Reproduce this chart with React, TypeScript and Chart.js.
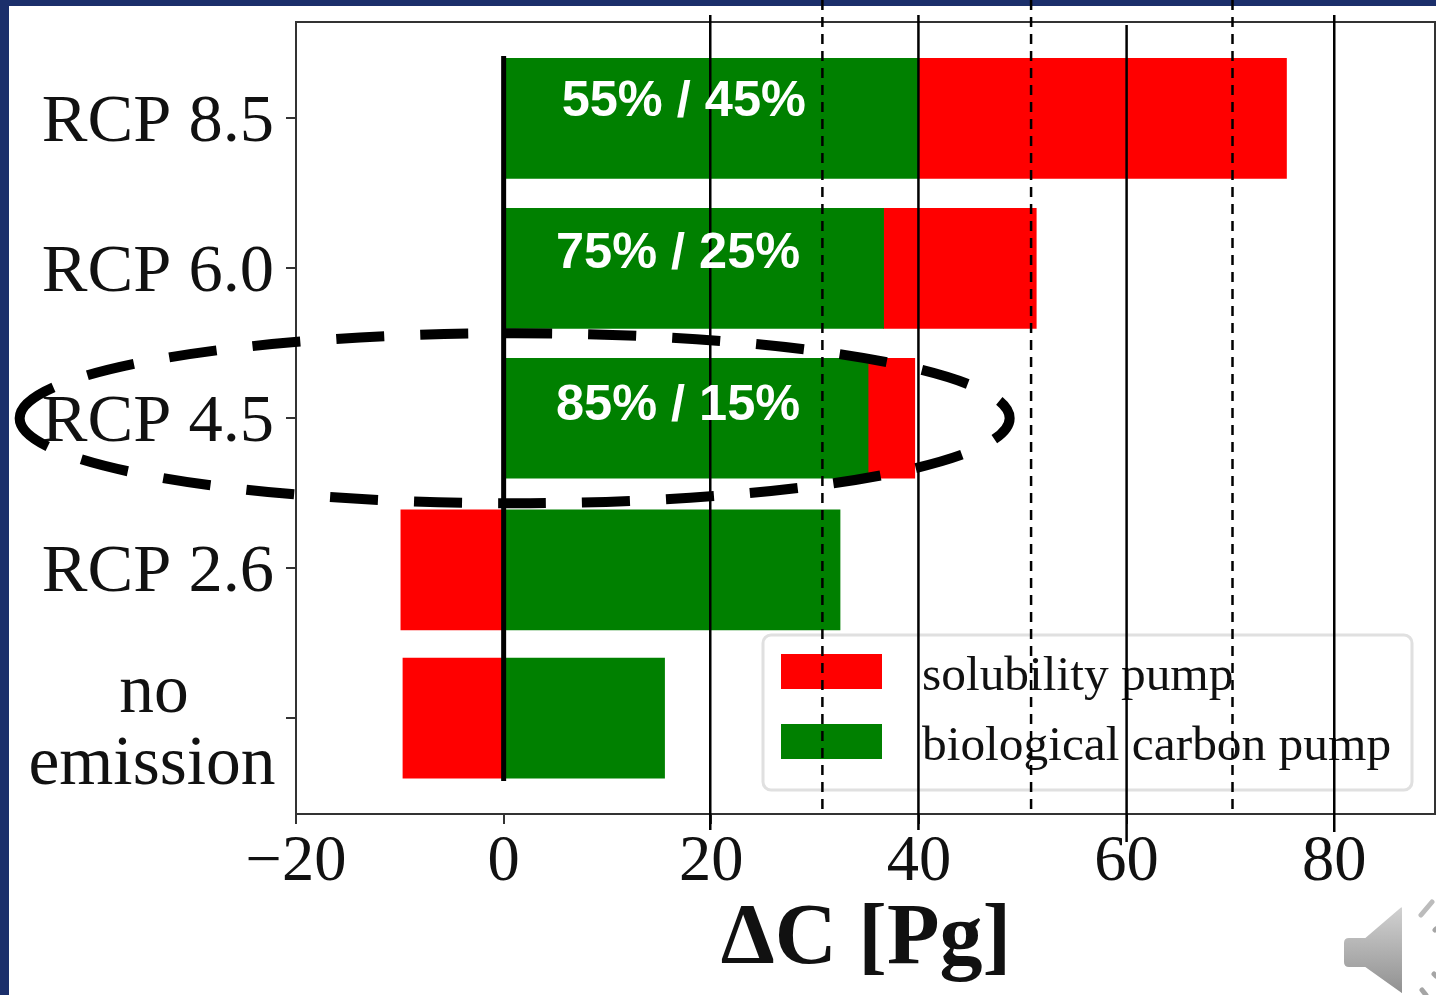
import React, { useEffect, useRef } from "react";
import { Chart, registerables } from "chart.js";

Chart.register(...registerables);

const categories = ["RCP 8.5", "RCP 6.0", "RCP 4.5", "RCP 2.6", "no emission"];
const barRows = [0, 1, 2, 3.012, 4];
const biological = [39.9, 36.6, 35.1, 32.4, 15.5];
const solubility = [35.5, 14.7, 4.5, -9.9, -9.7];
const shareLabels = ["55% / 45%", "75% / 25%", "85% / 15%"];
const shareLabelX = [17.35, 16.8, 16.8];
const shareLabelRow = [-0.11, 0.907, 1.92];
const solidRefs = [19.9, 39.95, 60, 80];
const solidRefTops = [15, 15, 25, 15];
const solidRefBottoms = [830, 830, 842, 832];
const dashedRefs = [30.7, 50.8, 70.2];

const SERIF = '"Liberation Serif", "Times New Roman", serif';
const INK = "#111111";

const overlays = {
  id: "overlays",
  afterDraw(chart: any) {
    const { ctx, chartArea, scales } = chart;
    const x = scales.x;
    const y = scales.y;
    ctx.save();

    // axes frame
    ctx.strokeStyle = "#333333";
    ctx.lineWidth = 2;
    ctx.strokeRect(chartArea.left, chartArea.top, chartArea.right - chartArea.left - 1, chartArea.bottom - chartArea.top);

    // category labels come from the scale's own ticks
    ctx.fillStyle = INK;
    ctx.textBaseline = "alphabetic";
    y.ticks.forEach((t: any) => {
      const py = y.getPixelForValue(t.value);
      const lab = String(t.label);
      if (lab.includes(" ") && !lab.startsWith("RCP")) {
        const [a, b] = lab.split(" ");
        ctx.font = `69.5px ${SERIF}`;
        ctx.textAlign = "center";
        ctx.fillText(a, 154, py - 6);
        ctx.fillText(b, 152, py + 66);
      } else {
        ctx.font = `68.5px ${SERIF}`;
        ctx.textAlign = "right";
        ctx.fillText(lab, 274, py + 23);
      }
    });

    // legend
    const bx = 763, by = 635, bw = 649, bh = 155;
    ctx.beginPath();
    ctx.roundRect(bx, by, bw, bh, 8);
    ctx.fillStyle = "rgba(255,255,255,0.85)";
    ctx.fill();
    ctx.strokeStyle = "#e0e0e0";
    ctx.lineWidth = 3;
    ctx.stroke();
    const legendSets = [chart.data.datasets[1], chart.data.datasets[0]];
    ctx.font = `49.4px ${SERIF}`;
    ctx.textAlign = "left";
    legendSets.forEach((ds: any, i: number) => {
      ctx.fillStyle = ds.backgroundColor;
      ctx.fillRect(781, 654 + i * 70, 101, 35);
      ctx.fillStyle = INK;
      ctx.fillText(ds.label, 922, 690 + i * 70);
    });

    // reference lines
    ctx.strokeStyle = "#000000";
    ctx.lineWidth = 2.5;
    solidRefs.forEach((v, i) => {
      const px = x.getPixelForValue(v);
      ctx.beginPath();
      ctx.moveTo(px, solidRefTops[i]);
      ctx.lineTo(px, solidRefBottoms[i]);
      ctx.stroke();
    });
    ctx.setLineDash([10, 7]);
    dashedRefs.forEach((v) => {
      const px = x.getPixelForValue(v);
      ctx.beginPath();
      ctx.moveTo(px, 0);
      ctx.lineTo(px, chartArea.bottom);
      ctx.stroke();
    });
    ctx.setLineDash([]);

    // zero line
    const zero = x.getPixelForValue(0);
    ctx.lineWidth = 5;
    ctx.beginPath();
    ctx.moveTo(zero, 56);
    ctx.lineTo(zero, 781);
    ctx.stroke();

    // share labels
    ctx.fillStyle = "#ffffff";
    ctx.font = 'bold 50.5px "Liberation Sans", Arial, sans-serif';
    ctx.textAlign = "center";
    ctx.textBaseline = "middle";
    shareLabels.forEach((s, i) => {
      ctx.fillText(s, x.getPixelForValue(shareLabelX[i]), y.getPixelForValue(shareLabelRow[i]));
    });

    // highlight around RCP 4.5
    ctx.strokeStyle = "#000000";
    ctx.lineWidth = 10;
    ctx.setLineDash([48, 36]);
    ctx.beginPath();
    ctx.ellipse(x.getPixelForValue(1.06), y.getPixelForValue(2), 495, 85, 0, Math.PI, Math.PI * 3);
    ctx.stroke();
    ctx.restore();
  },
};

export default function App() {
  const ref = useRef<HTMLCanvasElement>(null);

  useEffect(() => {
    const chart = new Chart(ref.current!, {
      type: "bar",
      data: {
        datasets: [
          {
            label: "biological carbon pump",
            data: biological.map((v, i) => ({ x: v, y: barRows[i] })),
            backgroundColor: "#008000",
            barThickness: 120,
          },
          {
            label: "solubility pump",
            data: solubility.map((v, i) => ({ x: v, y: barRows[i] })),
            backgroundColor: "#ff0000",
            barThickness: 120,
          },
        ],
      },
      options: {
        indexAxis: "y",
        animation: false,
        responsive: false,
        layout: { padding: { top: 22, left: 0, right: 0, bottom: 0 } },
        plugins: { legend: { display: false }, tooltip: { enabled: false } },
        scales: {
          x: {
            type: "linear",
            stacked: true,
            min: -20,
            max: 89.8,
            grid: { display: true, drawOnChartArea: false, drawTicks: true, tickLength: 10, color: "#333333", lineWidth: 2 },
            border: { display: true, color: "#333333", width: 2 },
            ticks: {
              stepSize: 20,
              includeBounds: false,
              color: INK,
              padding: 0,
              maxRotation: 0,
              font: { family: SERIF, size: 64.5 },
              callback: (v: any) => (Number(v) < 0 ? "\u2212" + Math.abs(Number(v)) : String(v)),
            },
            title: {
              display: true,
              text: "\u0394C [Pg]",
              color: INK,
              font: { family: SERIF, size: 86, weight: "bold" },
              padding: { top: 0, bottom: 3 },
            },
            afterFit: (s: any) => {
              s.height = 181;
            },
          },
          y: {
            type: "linear",
            stacked: true,
            reverse: true,
            offset: false,
            min: -0.643,
            max: 4.64,
            grid: { display: true, offset: false, drawOnChartArea: false, drawTicks: true, tickLength: 10, color: "#333333", lineWidth: 2 },
            border: { display: true, color: "#333333", width: 2 },
            ticks: {
              display: false,
              autoSkip: false,
              callback: (v: any) => categories[Number(v)] ?? "",
            },
            afterBuildTicks: (s: any) => {
              s.ticks = categories.map((_, i) => ({ value: i }));
            },
            afterFit: (s: any) => {
              s.width = 296;
            },
          },
        },
      },
      plugins: [overlays],
    } as any);
    return () => chart.destroy();
  }, []);

  return (
    <div style={{ position: "fixed", left: 0, top: 0, width: 1436, height: 995, background: "#1b2f6b", overflow: "hidden" }}>
      <div style={{ position: "absolute", left: 9, top: 6, right: 0, bottom: 0, background: "#ffffff" }} />
      <canvas ref={ref} width={1436} height={995} style={{ position: "absolute", left: 0, top: 0, width: 1436, height: 995 }} />
      <svg width={96} height={96} viewBox="1340 899 96 96" style={{ position: "absolute", left: 1340, top: 899 }}>
        <defs>
          <linearGradient id="spk" x1="0" y1="0" x2="0" y2="1">
            <stop offset="0" stopColor="#d2d2d2" />
            <stop offset="1" stopColor="#8f8f8f" />
          </linearGradient>
        </defs>
        <path d="M1343 943 Q1343 937 1349 937 L1365 937 L1400 907 Q1403 905 1403 909 L1403 995 L1365 968 L1349 968 Q1343 968 1343 962 Z" fill="url(#spk)" stroke="#ffffff" strokeWidth="2" />
        <path d="M1421 915 L1432 902" stroke="#bcbcbc" strokeWidth="5" strokeLinecap="round" />
        <path d="M1435 930 L1436 929 M1434 974 L1436 976 M1422 990 L1426 995" stroke="#a5a5a5" strokeWidth="5" strokeLinecap="round" />
      </svg>
    </div>
  );
}
